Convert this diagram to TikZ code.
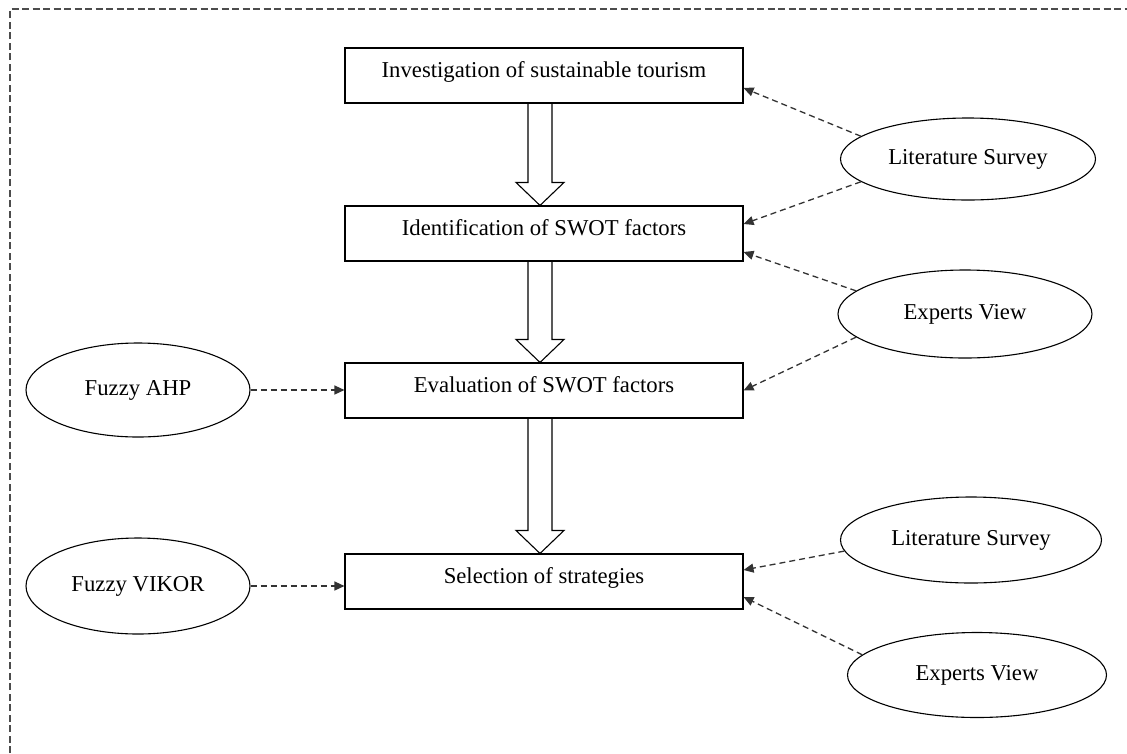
\documentclass[tikz,border=0pt]{standalone}
\usepackage{fontspec}
\setmainfont{Liberation Serif}
\usetikzlibrary{shapes.geometric,arrows.meta,calc}

\tikzset{
  stage/.style={draw, line width=1.1pt, minimum width=398pt, inner xsep=0pt, inner ysep=0pt,
    text height=29pt, text depth=26pt},
  source/.style={draw, ellipse, line width=1.1pt, inner sep=0pt},
  feed/.style={draw=black!80, line width=1.3pt, dash pattern=on 6pt off 4pt,
    -{Triangle[length=10pt,width=9pt]}},
  hollow/.style={draw, line width=1.1pt, line join=miter}
}

% block arrow between two stages
\newcommand{\blockarrow}[2]{%
  \draw[hollow] ($(#1.south)+(-16,0)$) -- ($(#2.north)+(-16,-23)$) -- ($(#2.north)+(-28,-23)$)
    -- ($(#2.north)+(-4,0)$) -- ($(#2.north)+(20,-23)$) -- ($(#2.north)+(8,-23)$) -- ($(#1.south)+(8,0)$);}

\begin{document}
\begin{tikzpicture}[x=1pt,y=-1pt]
\fontsize{22.7}{27}\selectfont
\useasboundingbox (0,0) rectangle (1127,753);

% frame
\draw[black!70, line width=1.1pt, dash pattern=on 7pt off 3.5pt] (10,753) -- (10,9) -- (1127,9);

% stages
\node[stage] (b1) at (544,75.5) {Investigation of sustainable tourism};
\node[stage] (b2) at (544,233.5) {Identification of SWOT factors};
\node[stage] (b3) at (544,390.5) {Evaluation of SWOT factors};
\node[stage] (b4) at (544,581.5) {Selection of strategies};

% sources
\node[source, minimum width=255pt, minimum height=82pt] (ls1) at (968,159) {Literature Survey};
\node[source, minimum width=254pt, minimum height=88pt] (ev1) at (965,314) {Experts View};
\node[source, minimum width=261pt, minimum height=86pt] (ls2) at (971,540) {Literature Survey};
\node[source, minimum width=259pt, minimum height=85pt] (ev2) at (977,675) {Experts View};
\node[source, minimum width=224pt, minimum height=94pt] (fa) at (138,390) {Fuzzy AHP};
\node[source, minimum width=224pt, minimum height=96pt] (fv) at (138,586) {Fuzzy VIKOR};

% flow
\blockarrow{b1}{b2}
\blockarrow{b2}{b3}
\blockarrow{b3}{b4}

% inputs
\draw[feed] (ls1.168) -- ([yshift=-12.5pt]b1.east);
\draw[feed] (ls1.192) -- ([yshift=9.5pt]b2.east);
\draw[feed] (ev1.168) -- ([yshift=-18.5pt]b2.east);
\draw[feed] (ev1.192) -- (b3.east);
\draw[feed] (ls2.185) -- ([yshift=11.5pt]b4.east);
\draw[feed] (ev2.170) -- ([yshift=-15.5pt]b4.east);
\draw[feed] (fa.east) -- (fa.east -| b3.west);
\draw[feed] (fv.east) -- (fv.east -| b4.west);

\end{tikzpicture}
\end{document}
